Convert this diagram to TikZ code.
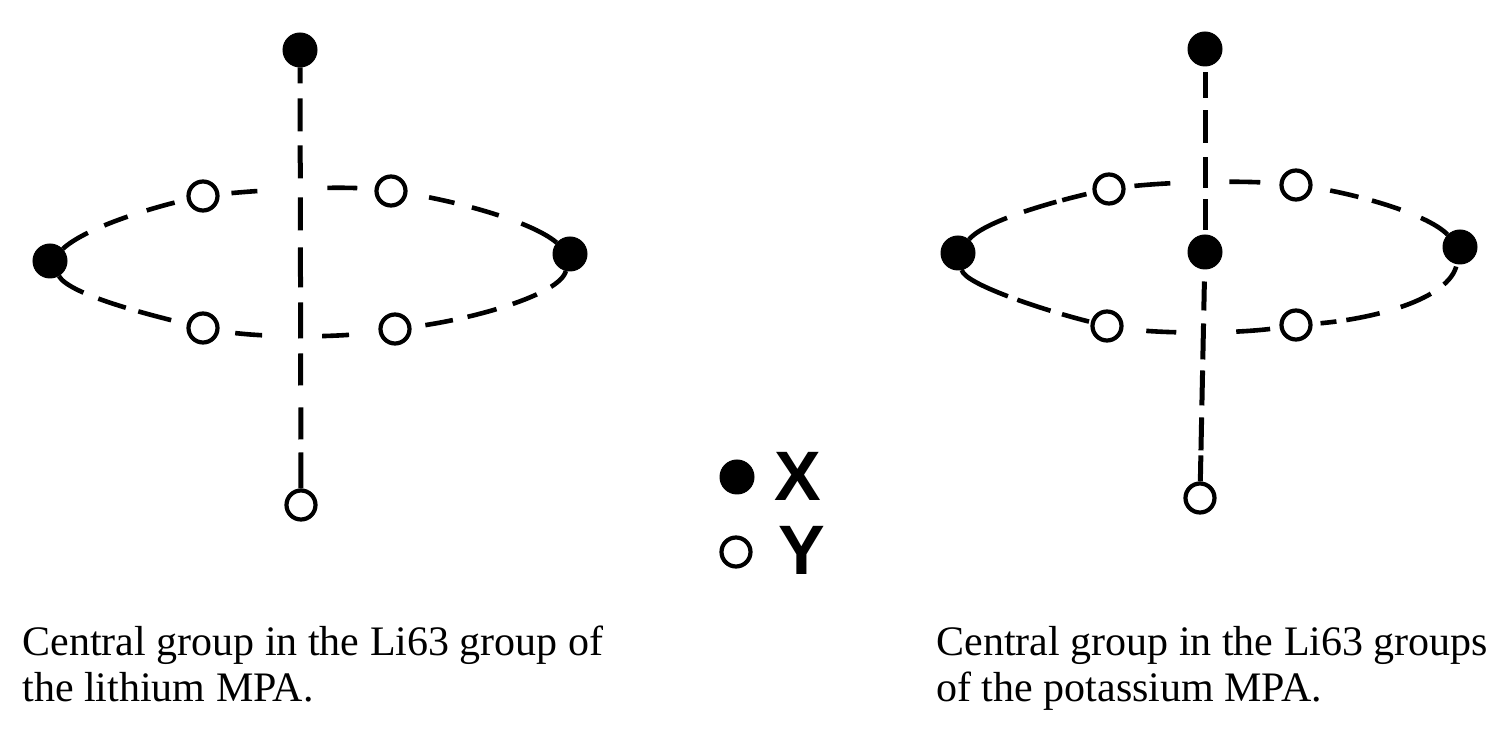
\documentclass[tikz,border=0pt]{standalone}
\usepackage{fontspec}
\setmainfont{Liberation Serif}
\newfontfamily\legendfont{Liberation Sans}
\begin{document}
\begin{tikzpicture}[x=0.5pt,y=-0.5pt,
  xatom/.style={circle,fill=black,draw=black,line width=0.5pt,inner sep=0pt,minimum size=17pt},
  yatom/.style={circle,fill=white,draw=black,line width=2.1pt,inner sep=0pt,minimum size=14.5pt},
  vbond/.style={line width=2.5pt},
  rimbond/.style={line width=2.3pt},
  caption/.style={anchor=base west,inner sep=0pt,font=\fontsize{21pt}{23pt}\selectfont},
  legendtext/.style={inner sep=0pt,font=\legendfont\bfseries\fontsize{35pt}{35pt}\selectfont}]
\useasboundingbox (0,0) rectangle (1512,732);
% left figure
\node[xatom] (lt) at (300,50) {};
\node[yatom] (lb) at (301,505) {};
\node[xatom] (ll) at (50,261) {};
\node[xatom] (lr) at (570,254) {};
\node[yatom] (la) at (203,196) {};
\node[yatom] (lc) at (391,191) {};
\node[yatom] (ld) at (203,328) {};
\node[yatom] (le) at (395,329) {};
\draw[vbond,dash pattern=on 8pt off 7.5pt on 16.5pt off 7pt on 16.5pt off 9.5pt on 16.5pt off 8.5pt on 20pt off 7.5pt on 18pt off 7.5pt on 16pt off 11pt on 16pt off 6.5pt on 20pt off 50pt] (lt) -- (lb);
\draw[rimbond,dash pattern=on 15pt off 9pt on 12.5pt off 10pt on 14.5pt off 50pt] (ll) .. controls (85,228) and (150,208) .. (la);
\draw[rimbond,dash pattern=on 0pt off 6pt on 13pt off 35pt on 15pt off 50pt] (la) .. controls (250,191) and (335,185) .. (lc);
\draw[rimbond,dash pattern=on 0pt off 11pt on 13pt off 9pt on 14pt off 12pt on 21pt off 50pt] (lc) .. controls (450,200) and (530,220) .. (lr);
\draw[rimbond,dash pattern=on 15pt off 8pt on 14.5pt off 6.5pt on 17pt off 50pt] (ll) .. controls (70,295) and (150,315) .. (ld);
\draw[rimbond,dash pattern=on 0pt off 8pt on 13.5pt off 30pt on 13.5pt off 50pt] (ld) .. controls (260,338) and (340,338) .. (le);
\draw[rimbond,dash pattern=on 0pt off 7pt on 14pt off 7.5pt on 15pt off 8.5pt on 13pt off 8pt on 12.5pt off 50pt] (le) .. controls (470,320) and (560,295) .. (lr);
% right figure
\node[xatom] (rt) at (1205,49) {};
\node[xatom] (rm) at (1205,252) {};
\node[yatom] (rb) at (1200,498) {};
\node[xatom] (rl) at (958,253) {};
\node[xatom] (rr) at (1460,247) {};
\node[yatom] (ra) at (1109,189) {};
\node[yatom] (rc) at (1296,185) {};
\node[yatom] (rd) at (1107,326) {};
\node[yatom] (re) at (1296,325) {};
\draw[vbond,dash pattern=on 0pt off 3pt on 13pt off 6pt on 16.5pt off 7pt on 15.5pt off 5.5pt on 15.5pt off 50pt] (rt) -- (rm);
\draw[vbond,dash pattern=on 0pt off 6pt on 14.5pt off 6.5pt on 18pt off 5.5pt on 17.5pt off 6pt on 16.5pt off 2.5pt on 22pt off 50pt] (rm) -- (rb);
\draw[rimbond,dash pattern=on 22pt off 9pt on 17pt off 3pt on 12.5pt off 50pt] (rl) .. controls (985,220) and (1060,200) .. (ra);
\draw[rimbond,dash pattern=on 0pt off 4.5pt on 18pt off 29.5pt on 15.5pt off 50pt] (ra) .. controls (1165,182) and (1240,180) .. (rc);
\draw[rimbond,dash pattern=on 0pt off 9pt on 14.5pt off 7pt on 15pt off 11pt on 16pt off 50pt] (rc) .. controls (1350,193) and (1425,212) .. (rr);
\draw[rimbond,dash pattern=on 27pt off 5pt on 17.5pt off 6pt on 14pt off 50pt] (rl) .. controls (965,285) and (1050,312) .. (rd);
\draw[rimbond,dash pattern=on 0pt off 11.5pt on 15pt off 30pt on 17pt off 50pt] (rd) .. controls (1160,334) and (1240,334) .. (re);
\draw[rimbond,dash pattern=on 0pt off 4pt on 8pt off 5pt on 17pt off 11pt on 16.5pt off 8pt on 11pt off 50pt] (re) .. controls (1370,320) and (1450,300) .. (rr);
% legend
\node[xatom] (kx) at (737,477) {};
\node[yatom] (ky) at (736,552) {};
\node[legendtext] (tx) at (798,476) {X};
\node[legendtext] (ty) at (802,550) {Y};
% captions
\node[caption] (c1) at (22,656) {Central group in the Li63 group of};
\node[caption] (c2) at (22,702) {the lithium MPA.};
\node[caption] (c3) at (936,656) {Central group in the Li63 groups};
\node[caption] (c4) at (936,702) {of the potassium MPA.};
\end{tikzpicture}
\end{document}
